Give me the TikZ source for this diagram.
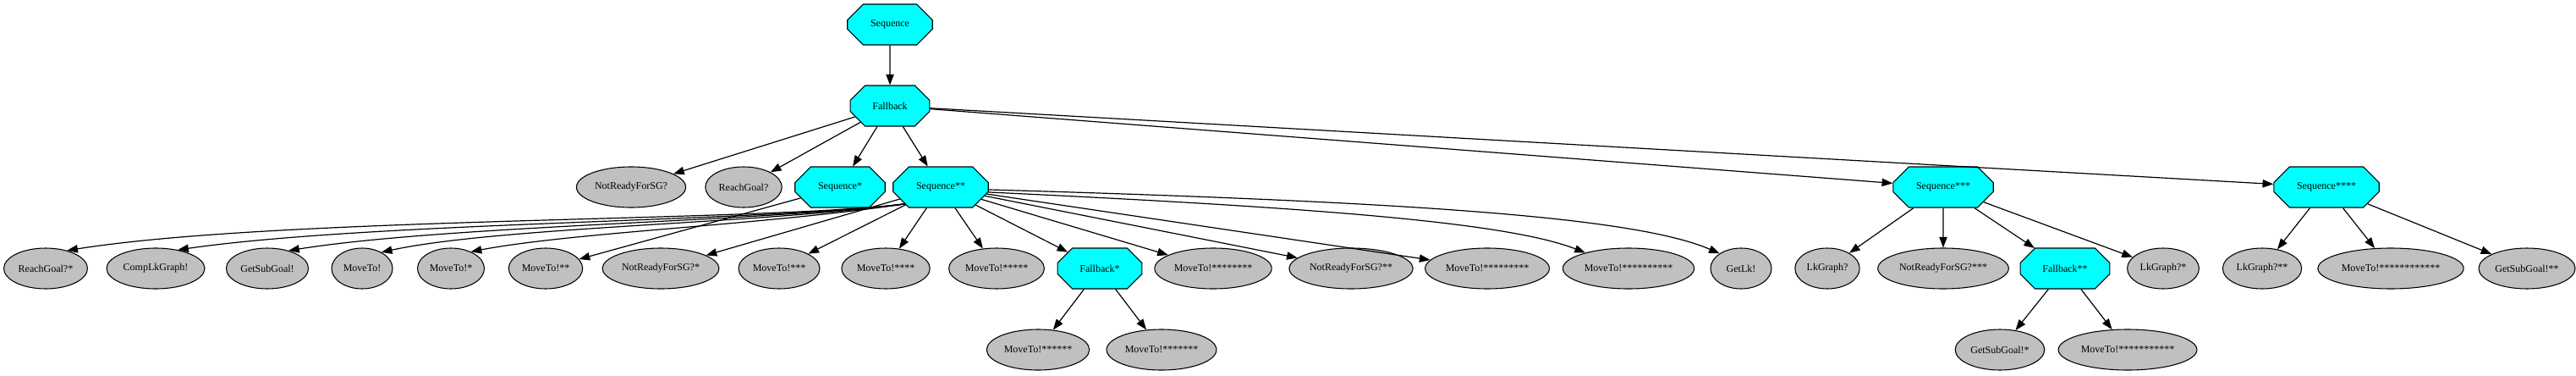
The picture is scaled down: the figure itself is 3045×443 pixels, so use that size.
\documentclass[tikz,border=0pt]{standalone}
\usepackage{fontspec}
\setmainfont{Liberation Serif}
\usetikzlibrary{shapes.misc,shapes.geometric,arrows.meta}
\definecolor{leafgray}{RGB}{192,192,192}
\definecolor{ctrlcyan}{RGB}{0,255,255}

\begin{document}
\begin{tikzpicture}[x=0.75pt,y=-0.75pt,
    ctrl/.style={chamfered rectangle, chamfered rectangle xsep=13pt, chamfered rectangle ysep=8pt,
      draw=black, fill=ctrlcyan, line width=0.8pt, minimum height=36pt, inner xsep=14.5pt, inner ysep=2pt,
      font=\fontsize{9}{10}\selectfont},
    leaf/.style={ellipse, draw=black, fill=leafgray, line width=0.8pt, minimum height=36pt, minimum width=54pt,
      inner xsep=2pt, inner ysep=1pt, font=\fontsize{9}{10}\selectfont},
    edge/.style={line width=0.9pt, -{Triangle[length=9.5pt,width=7pt]}}]

  \useasboundingbox (0,0) rectangle (3045,443);

  % root and fallback
  \node[ctrl] (seq) at (1052,29) {Sequence};
  \node[ctrl] (fb) at (1052,125) {Fallback};

  % children of Fallback
  \node[leaf] (nr) at (746,221) {NotReadyForSG?};
  \node[leaf] (rg) at (879,221) {ReachGoal?};
  \node[ctrl] (seqA) at (993,221) {Sequence*};
  \node[ctrl] (seqB) at (1112,221) {Sequence**};
  \node[ctrl] (seqC) at (2297,221) {Sequence***};
  \node[ctrl] (seqD) at (2750,221) {Sequence****};

  % third row
  \node[leaf] (rgA) at (54,317) {ReachGoal?*};
  \node[leaf] (clg) at (184,317) {CompLkGraph!};
  \node[leaf] (gsg) at (316,317) {GetSubGoal!};
  \node[leaf] (mv) at (428,317) {MoveTo!};
  \node[leaf] (mvA) at (533,317) {MoveTo!*};
  \node[leaf] (mvB) at (645,317) {MoveTo!**};
  \node[leaf] (nrA) at (781,317) {NotReadyForSG?*};
  \node[leaf] (mvC) at (921,317) {MoveTo!***};
  \node[leaf] (mvD) at (1047,317) {MoveTo!****};
  \node[leaf] (mvE) at (1178,317) {MoveTo!*****};
  \node[ctrl] (fbA) at (1300,317) {Fallback*};
  \node[leaf] (mvH) at (1434,317) {MoveTo!********};
  \node[leaf] (nrB) at (1597,317) {NotReadyForSG?**};
  \node[leaf] (mvI) at (1758,317) {MoveTo!*********};
  \node[leaf] (mvJ) at (1925,317) {MoveTo!**********};
  \node[leaf] (glk) at (2058,317) {GetLk!};
  \node[leaf] (lkg) at (2160,317) {LkGraph?};
  \node[leaf] (nrC) at (2297,317) {NotReadyForSG?***};
  \node[ctrl] (fbB) at (2441,317) {Fallback**};
  \node[leaf] (lkgA) at (2557,317) {LkGraph?*};
  \node[leaf] (lkgB) at (2674,317) {LkGraph?**};
  \node[leaf] (mvL) at (2826,317) {MoveTo!************};
  \node[leaf] (gsgB) at (2987,317) {GetSubGoal!**};

  % fourth row
  \node[leaf] (mvF) at (1227,413) {MoveTo!******};
  \node[leaf] (mvG) at (1373,413) {MoveTo!*******};
  \node[leaf] (gsgA) at (2364,413) {GetSubGoal!*};
  \node[leaf] (mvK) at (2515,413) {MoveTo!***********};

  % root edges
  \draw[edge] (seq) -- (fb);
  \draw[edge] (fb) -- (nr);
  \draw[edge] (fb) -- (rg);
  \draw[edge] (fb) -- (seqA);
  \draw[edge] (fb) -- (seqB);
  \draw[edge] (fb) -- (seqC);
  \draw[edge] (fb) -- (seqD);

  % Sequence* edge
  \draw[edge] (seqA) -- (mvB);

  % Sequence** edges, long ones to the left
  \draw[edge] (seqB.205) .. controls (900,262) and (330,256) .. (rgA.40);
  \draw[edge] (seqB.205) .. controls (900,262) and (440,262) .. (clg.40);
  \draw[edge] (seqB.205) .. controls (900,262) and (530,266) .. (gsg.40);
  \draw[edge] (seqB.205) .. controls (900,264) and (590,268) .. (mv.40);
  \draw[edge] (seqB.205) .. controls (900,266) and (680,274) .. (mvA.40);
  \draw[edge] (seqB) -- (nrA);
  \draw[edge] (seqB) -- (mvC);
  \draw[edge] (seqB) -- (mvD);
  \draw[edge] (seqB) -- (mvE);
  \draw[edge] (seqB) -- (fbA);
  \draw[edge] (seqB) -- (mvH);
  \draw[edge] (seqB) -- (nrB);
  \draw[edge] (seqB) -- (mvI);
  \draw[edge] (seqB.354) .. controls (1550,245) and (1780,262) .. (mvJ.160);
  \draw[edge] (seqB.357) .. controls (1650,238) and (1930,255) .. (glk.145);

  % Fallback* edges
  \draw[edge] (fbA) -- (mvF);
  \draw[edge] (fbA) -- (mvG);

  % Sequence*** edges
  \draw[edge] (seqC) -- (lkg);
  \draw[edge] (seqC) -- (nrC);
  \draw[edge] (seqC) -- (fbB);
  \draw[edge] (seqC) -- (lkgA);

  % Fallback** edges
  \draw[edge] (fbB) -- (gsgA);
  \draw[edge] (fbB) -- (mvK);

  % Sequence**** edges
  \draw[edge] (seqD) -- (lkgB);
  \draw[edge] (seqD) -- (mvL);
  \draw[edge] (seqD) -- (gsgB);
\end{tikzpicture}
\end{document}
